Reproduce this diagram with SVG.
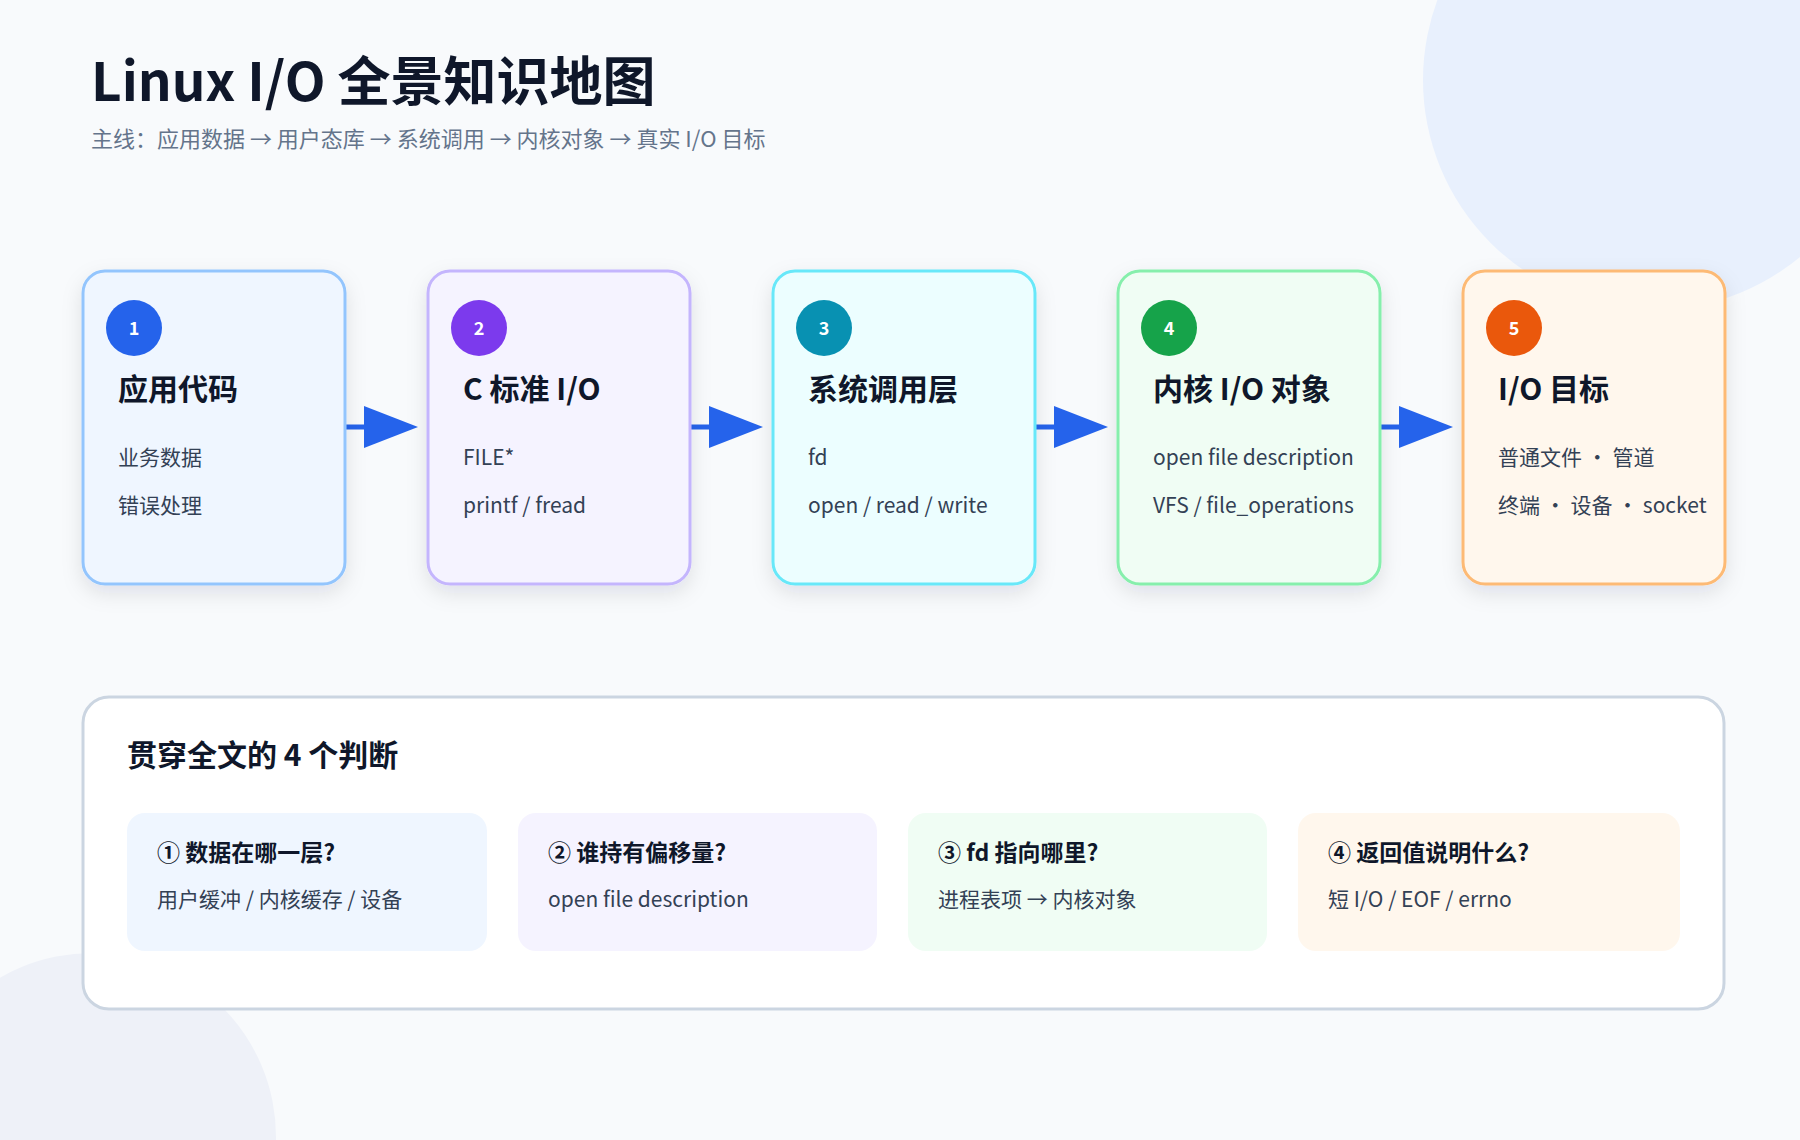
<svg xmlns="http://www.w3.org/2000/svg" width="1800" height="1140" viewBox="0 0 1800 1140">
<defs>
<filter id="sh" x="-20%" y="-20%" width="140%" height="150%"><feDropShadow dx="0" dy="8" stdDeviation="10" flood-color="#0f172a" flood-opacity="0.10"/></filter>
<marker id="ah" markerWidth="10" markerHeight="10" refX="0" refY="5" orient="auto" markerUnits="userSpaceOnUse" viewBox="0 0 10 10"><path d="M0,0 L10,5 L0,10 z" fill="#2563eb"/></marker>
</defs>
<style>
text{font-family:"Noto Sans CJK SC","Noto Sans","Open Sans",sans-serif}
.card{stroke-width:3;filter:url(#sh)}
.ct{font-size:30px;font-weight:700;fill:#0f172a}
.cl{font-size:21px;fill:#334155}
.num{font-size:18px;font-weight:700;fill:#fff;text-anchor:middle}
.bt{font-size:23px;font-weight:700;fill:#0f172a}
.bs{font-size:21px;fill:#334155}
.conn{stroke:#2563eb;stroke-width:5;fill:none}
</style>
<rect width="1800" height="1140" fill="#f8fafc"/>
<circle cx="1653" cy="80" r="230" fill="#e8f0fd"/>
<circle cx="92" cy="1137" r="184" fill="#eef1f8"/>
<text x="91" y="101" font-size="53" font-weight="700" fill="#0f172a">Linux I/O 全景知识地图</text>
<text x="91" y="147" font-size="22" fill="#64748b">主线：应用数据 → 用户态库 → 系统调用 → 内核对象 → 真实 I/O 目标</text>

<g id="connectors">
<path class="conn" d="M345,427 L365,427" />
<path d="M364,406 L418,427 L364,448 z" fill="#2563eb"/>
<path class="conn" d="M690,427 L710,427" />
<path d="M709,406 L763,427 L709,448 z" fill="#2563eb"/>
<path class="conn" d="M1035,427 L1055,427" />
<path d="M1054,406 L1108,427 L1054,448 z" fill="#2563eb"/>
<path class="conn" d="M1380,427 L1400,427" />
<path d="M1399,406 L1453,427 L1399,448 z" fill="#2563eb"/>
</g>

<g id="n1"><rect class="card" x="83" y="271" width="262" height="313" rx="22" fill="#eff6ff" stroke="#93c5fd"/>
<circle cx="134" cy="328" r="28" fill="#2563eb"/><text class="num" x="134" y="335">1</text>
<text class="ct" x="118" y="400">应用代码</text><text class="cl" x="118" y="465">业务数据</text><text class="cl" x="118" y="513">错误处理</text></g>
<g id="n2"><rect class="card" x="428" y="271" width="262" height="313" rx="22" fill="#f5f3ff" stroke="#c4b5fd"/>
<circle cx="479" cy="328" r="28" fill="#7c3aed"/><text class="num" x="479" y="335">2</text>
<text class="ct" x="463" y="400">C 标准 I/O</text><text class="cl" x="463" y="465">FILE*</text><text class="cl" x="463" y="513">printf / fread</text></g>
<g id="n3"><rect class="card" x="773" y="271" width="262" height="313" rx="22" fill="#ecfeff" stroke="#67e8f9"/>
<circle cx="824" cy="328" r="28" fill="#0891b2"/><text class="num" x="824" y="335">3</text>
<text class="ct" x="808" y="400">系统调用层</text><text class="cl" x="808" y="465">fd</text><text class="cl" x="808" y="513">open / read / write</text></g>
<g id="n4"><rect class="card" x="1118" y="271" width="262" height="313" rx="22" fill="#f0fdf4" stroke="#86efac"/>
<circle cx="1169" cy="328" r="28" fill="#16a34a"/><text class="num" x="1169" y="335">4</text>
<text class="ct" x="1153" y="400">内核 I/O 对象</text><text class="cl" x="1153" y="465">open file description</text><text class="cl" x="1153" y="513">VFS / file_operations</text></g>
<g id="n5"><rect class="card" x="1463" y="271" width="262" height="313" rx="22" fill="#fff7ed" stroke="#fdba74"/>
<circle cx="1514" cy="328" r="28" fill="#ea580c"/><text class="num" x="1514" y="335">5</text>
<text class="ct" x="1498" y="400">I/O 目标</text><text class="cl" x="1498" y="465">普通文件 · 管道</text><text class="cl" x="1498" y="513">终端 · 设备 · socket</text></g>

<g id="panel"><rect x="83" y="697" width="1641" height="312" rx="26" fill="#ffffff" stroke="#cbd5e1" stroke-width="3"/>
<text x="127" y="766" font-size="30" font-weight="700" fill="#0f172a">贯穿全文的 4 个判断</text></g>
<g id="j1"><rect x="127" y="813" width="360" height="138" rx="18" fill="#eff6ff"/>
<text class="bt" x="157" y="861">① 数据在哪一层?</text><text class="bs" x="157" y="907">用户缓冲 / 内核缓存 / 设备</text></g>
<g id="j2"><rect x="518" y="813" width="359" height="138" rx="18" fill="#f5f3ff"/>
<text class="bt" x="548" y="861">② 谁持有偏移量?</text><text class="bs" x="548" y="907">open file description</text></g>
<g id="j3"><rect x="908" y="813" width="359" height="138" rx="18" fill="#f0fdf4"/>
<text class="bt" x="938" y="861">③ fd 指向哪里?</text><text class="bs" x="938" y="907">进程表项 → 内核对象</text></g>
<g id="j4"><rect x="1298" y="813" width="382" height="138" rx="18" fill="#fff7ed"/>
<text class="bt" x="1328" y="861">④ 返回值说明什么?</text><text class="bs" x="1328" y="907">短 I/O / EOF / errno</text></g>
</svg>
